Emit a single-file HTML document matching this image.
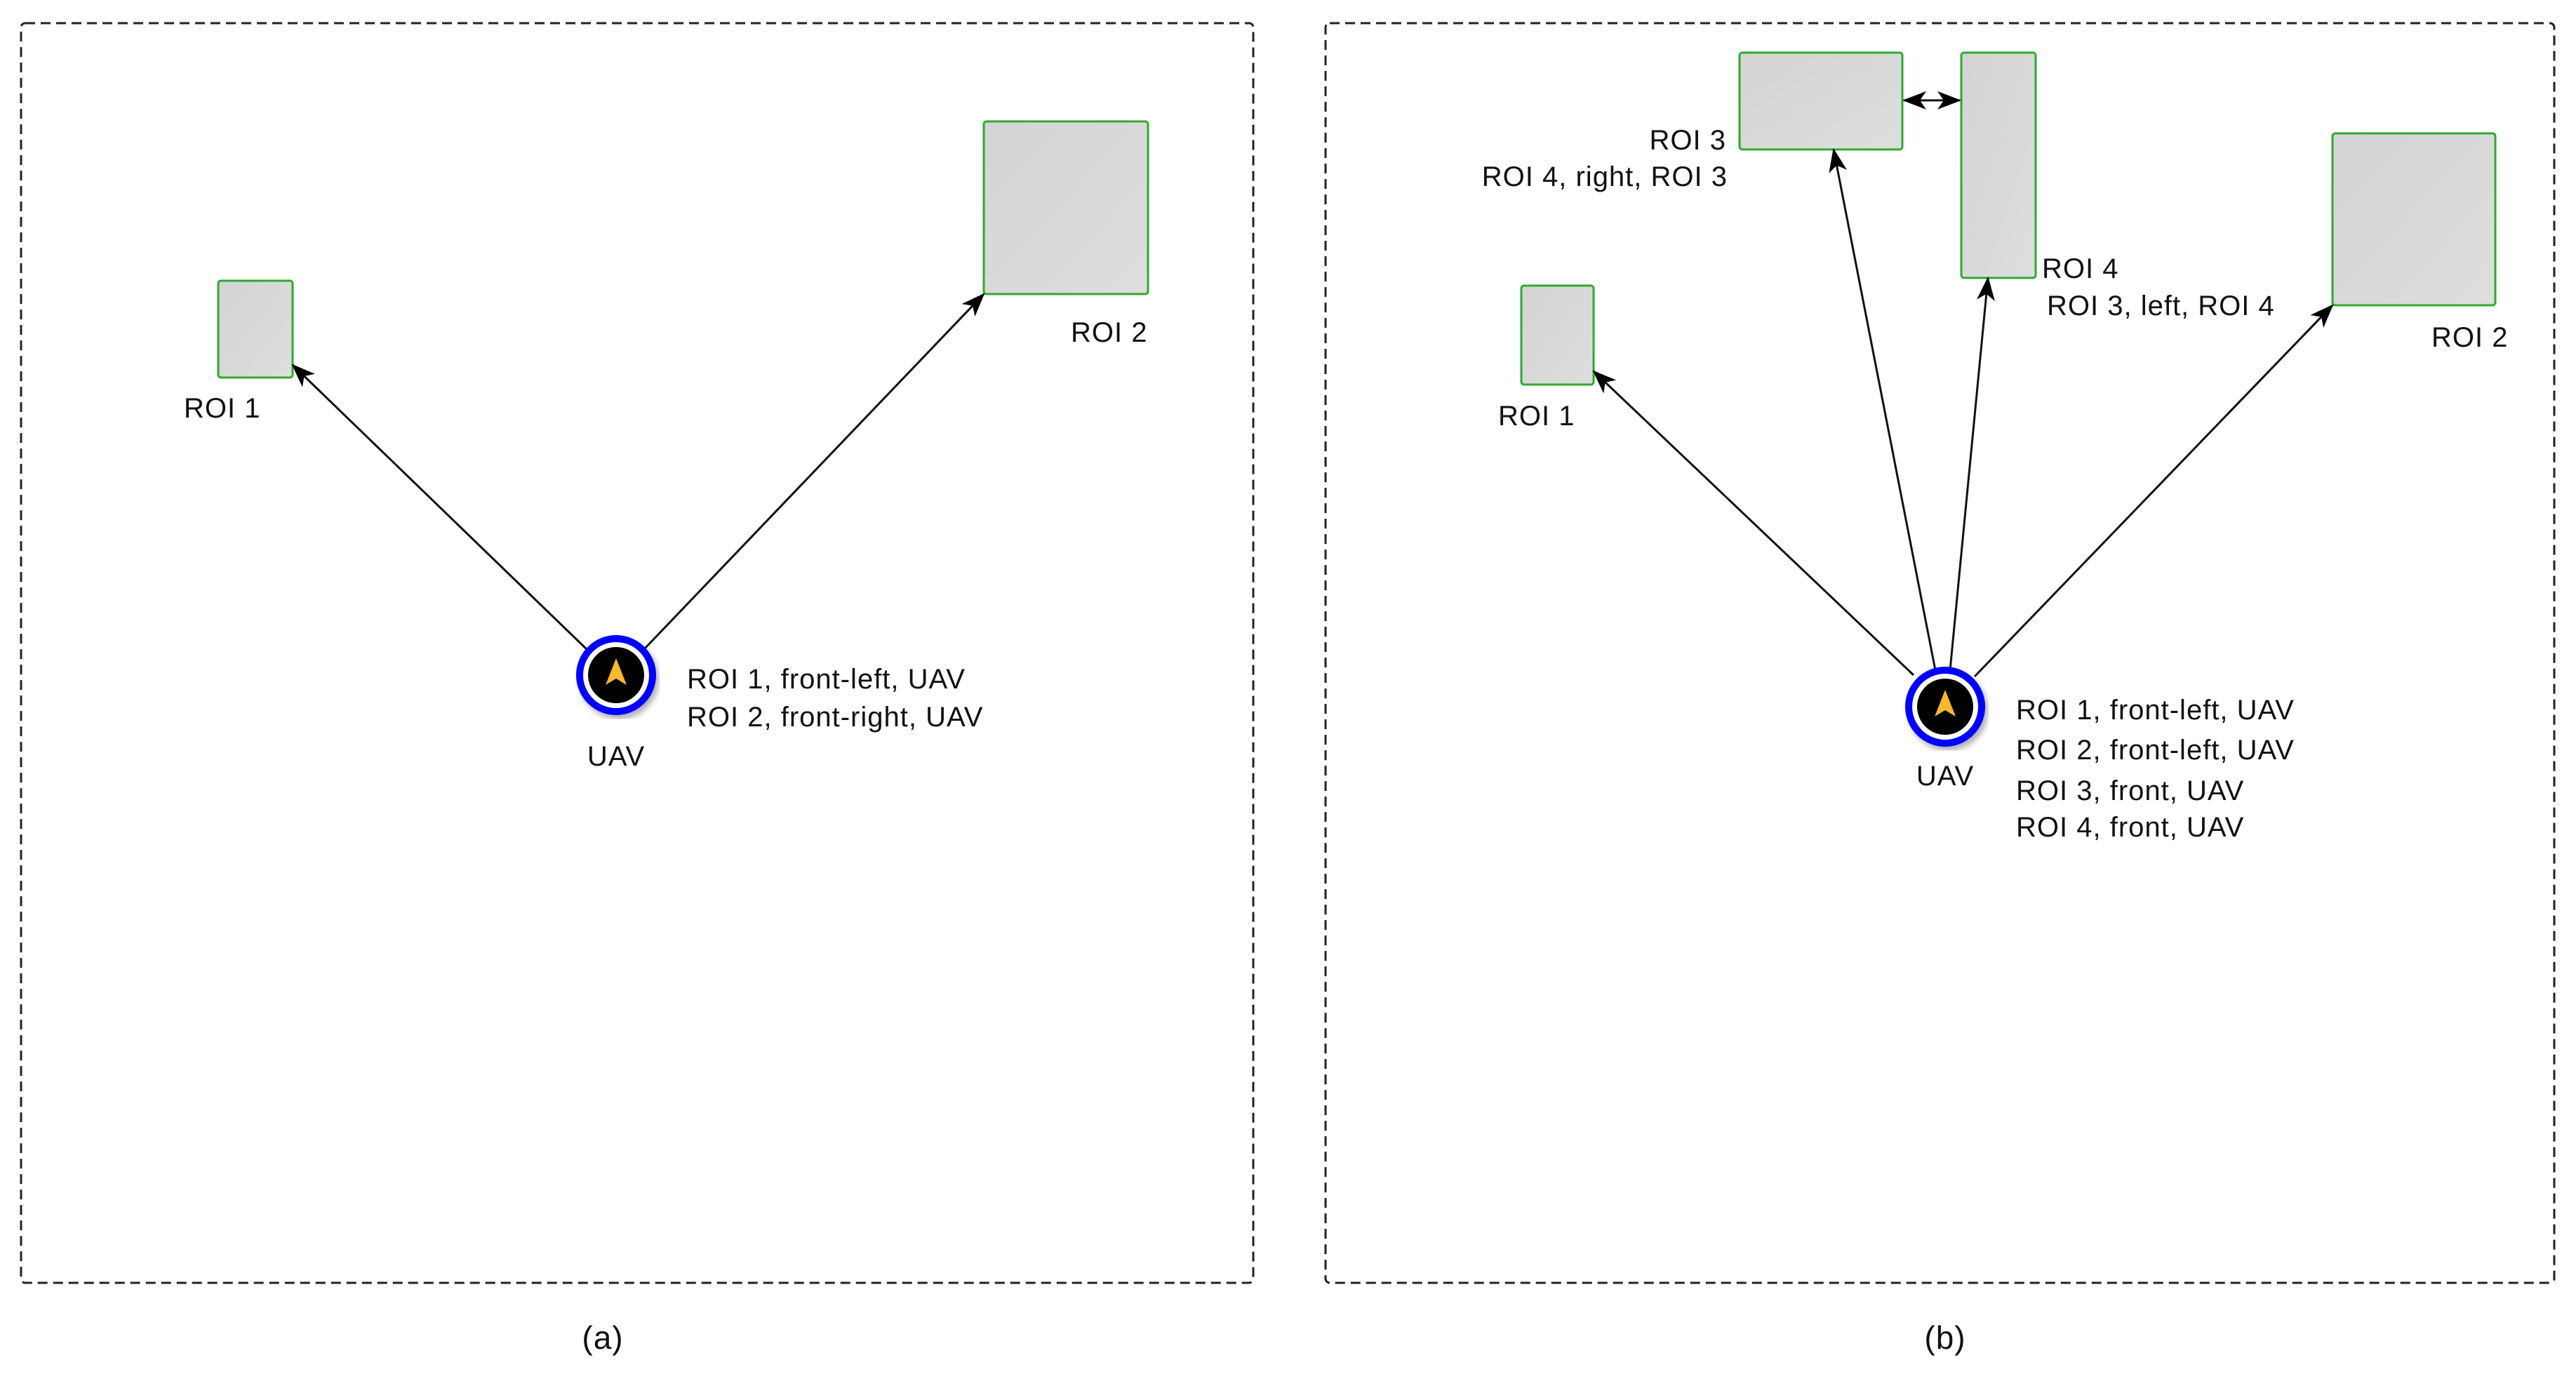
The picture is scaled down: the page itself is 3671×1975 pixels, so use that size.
<!DOCTYPE html>
<html><head><meta charset="utf-8"><style>
html,body{margin:0;padding:0;background:#fff;}
svg{display:block;}
text{font-family:"Liberation Sans",Arial,sans-serif;font-size:40px;letter-spacing:1px;fill:#111;}
</style></head><body>
<svg width="3671" height="1975" viewBox="0 0 3671 1975" xmlns="http://www.w3.org/2000/svg">
<defs>
<marker id="ah" viewBox="0 0 34 26" refX="32" refY="13" markerWidth="34" markerHeight="26" markerUnits="userSpaceOnUse" orient="auto">
<path d="M0,0 L34,13 L0,26 L9,13 Z" fill="#000"/>
</marker>
<marker id="ahs" viewBox="0 0 34 26" refX="2" refY="13" markerWidth="34" markerHeight="26" markerUnits="userSpaceOnUse" orient="auto">
<path d="M34,0 L0,13 L34,26 L25,13 Z" fill="#000"/>
</marker>
<linearGradient id="g" x1="0" y1="0" x2="1" y2="1"><stop offset="0" stop-color="#d4d4d4"/><stop offset="1" stop-color="#dedede"/></linearGradient>
<filter id="sh"><feDropShadow dx="4" dy="6" stdDeviation="4" flood-opacity="0.3"/></filter>
<g id="uav">
<circle r="52" fill="#fff" stroke="#0000ff" stroke-width="10" filter="url(#sh)"/>
<circle r="40" fill="#000"/>
<path d="M0,-24 L15,14 L0,5 L-15,14 Z" fill="#f5b82e"/>
</g>
</defs>
<g fill="none" stroke="#222" stroke-width="3" stroke-dasharray="14,8">
<rect x="30" y="33" width="1756" height="1795" rx="6"/>
<rect x="1889" y="33" width="1751" height="1795" rx="6"/>
</g>
<g fill="url(#g)" stroke="#2eaa2e" stroke-width="3">
<rect x="311" y="400" width="106" height="138" rx="4"/>
<rect x="1402" y="173" width="234" height="246" rx="4"/>
<rect x="2168" y="407" width="103" height="141" rx="4"/>
<rect x="2479" y="75" width="232" height="138" rx="4"/>
<rect x="2795" y="75" width="106" height="321" rx="4"/>
<rect x="3324" y="190" width="232" height="245" rx="4"/>
</g>
<g stroke="#111" stroke-width="3" fill="none" marker-end="url(#ah)">
<line x1="838" y1="927" x2="417" y2="520"/>
<line x1="918" y1="925" x2="1402" y2="419"/>
<line x1="2727" y1="962" x2="2271" y2="529"/>
<line x1="2758" y1="955" x2="2613" y2="213"/>
<line x1="2779" y1="955" x2="2833" y2="396"/>
<line x1="2814" y1="964" x2="3324" y2="435"/>
<line x1="2713" y1="143" x2="2793" y2="143" marker-start="url(#ahs)"/>
</g>
<use href="#uav" x="878" y="962"/>
<use href="#uav" x="2772" y="1007"/>
<text x="262" y="595">ROI 1</text>
<text x="1526" y="487">ROI 2</text>
<text x="979" y="981">ROI 1, front-left, UAV</text>
<text x="979" y="1035">ROI 2, front-right, UAV</text>
<text x="878" y="1091" text-anchor="middle">UAV</text>
<text x="859" y="1922" text-anchor="middle" style="font-size:46px">(a)</text>
<text x="2135" y="606">ROI 1</text>
<text x="2460" y="213" text-anchor="end">ROI 3</text>
<text x="2462" y="265" text-anchor="end">ROI 4, right, ROI 3</text>
<text x="2910" y="396">ROI 4</text>
<text x="2917" y="449">ROI 3, left, ROI 4</text>
<text x="3465" y="494">ROI 2</text>
<text x="2873" y="1025">ROI 1, front-left, UAV</text>
<text x="2873" y="1082">ROI 2, front-left, UAV</text>
<text x="2873" y="1140">ROI 3, front, UAV</text>
<text x="2873" y="1192">ROI 4, front, UAV</text>
<text x="2772" y="1119" text-anchor="middle">UAV</text>
<text x="2772" y="1922" text-anchor="middle" style="font-size:46px">(b)</text>
</svg>
</body></html>
